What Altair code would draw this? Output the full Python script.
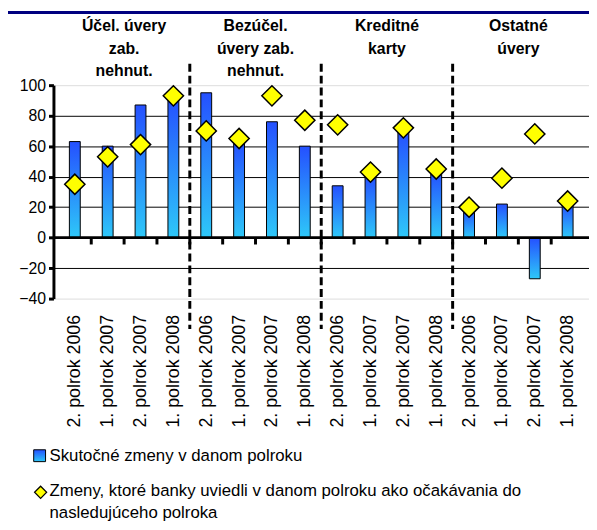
import json
import altair as alt
import pandas as pd

# ---------------- data ----------------
periods = ["2. polrok 2006", "1. polrok 2007", "2. polrok 2007", "1. polrok 2008"] * 4
groups = ["Účel. úvery\nzab.\nnehnut.", "Bezúčel.\núvery zab.\nnehnut.",
          "Kreditné\nkarty", "Ostatné\núvery"]
actual = [63, 60, 87, 92, 95, 63, 76, 60, 34, 40, 70, 43, 18, 22, -27, 22]
expected = [35, 53, 61, 93, 70, 65, 93, 77, 74, 43, 72, 45, 20, 39, 68, 24]
y_ticks = [-40, -20, 0, 20, 40, 60, 80, 100]
legend_bar = "Skutočné zmeny v danom polroku"
legend_pt = "Zmeny, ktoré banky uviedli v danom polroku ako očakávania do\nnasledujúceho polroka"

n = len(periods)
per_group = n // len(groups)
df = pd.DataFrame({"idx": list(range(n)), "period": periods,
                   "actual": actual, "expected": expected})
one = pd.DataFrame({"k": [0]})
bounds = pd.DataFrame({"b": [k + 0.5 for k in range(n - 1)]})
seps = pd.DataFrame({"b": [g * per_group - 0.5 for g in range(1, len(groups))]})
grp = pd.DataFrame({"g": groups,
                    "c": [g * per_group + (per_group - 1) / 2 for g in range(len(groups))]})

FONT = "Liberation Sans"
label_expr = "[" + ",".join(json.dumps(p) for p in periods) + "][datum.value]"

xscale = alt.Scale(domain=[-0.5, n - 0.5], nice=False, zero=False)
yscale = alt.Scale(domain=[-40, 100], nice=False, zero=False)

x_axis = alt.Axis(values=list(range(n)), labelExpr=label_expr, labelAngle=-90,
                  domain=False, ticks=False, grid=False, labelFont=FONT,
                  labelFontSize=18, labelColor="black", labelPadding=16,
                  labelOverlap=False, labelFlush=False, labelBound=False,
                  labelSeparation=0, title=None)
y_axis = alt.Axis(values=y_ticks, grid=True,
                  gridColor={"condition": {"test": "datum.value == 100 || datum.value == -40",
                                           "value": "#dddddd"}, "value": "black"},
                  gridWidth=1, domainWidth=3, domainColor="black", tickWidth=3, tickSize=5,
                  tickColor="black", labelFont=FONT, labelFontSize=16, labelColor="black",
                  labelPadding=3, labelOverlap=False, labelFlush=False, labelBound=False,
                  title=None)

grad = alt.Gradient(gradient="linear", x1=0, x2=0, y1=0, y2=1,
                    stops=[alt.GradientStop(color="#2550ff", offset=0),
                           alt.GradientStop(color="#2ec8f8", offset=1)])

bars = alt.Chart(df).mark_bar(size=11, color=grad, stroke="black", strokeWidth=1).encode(
    x=alt.X("idx:Q", scale=xscale, axis=x_axis),
    y=alt.Y("actual:Q", scale=yscale, axis=y_axis))

zero = alt.Chart(one).mark_rule(color="black", strokeWidth=3).encode(
    y=alt.Y(datum=0, scale=yscale, axis=y_axis))

ticks = alt.Chart(bounds).mark_rule(color="black", strokeWidth=3).encode(
    x=alt.X("b:Q", scale=xscale, axis=x_axis),
    y=alt.Y(datum=0, scale=yscale, axis=y_axis), y2=alt.datum(-4.5))

sep = alt.Chart(seps).mark_rule(color="black", strokeWidth=3, strokeDash=[8, 4], clip=False).encode(
    x=alt.X("b:Q", scale=xscale, axis=x_axis),
    y=alt.Y(datum=114, scale=yscale, axis=y_axis), y2=alt.datum(-60))

pts = alt.Chart(df).mark_point(shape="diamond", filled=True, fill="#ffff00", stroke="black",
                               strokeWidth=1.5, size=420, opacity=1).encode(
    x=alt.X("idx:Q", scale=xscale, axis=x_axis),
    y=alt.Y("expected:Q", scale=yscale, axis=y_axis))

glabels = alt.Chart(grp).mark_text(lineBreak="\n", font=FONT, fontSize=16, fontWeight="bold",
                                   baseline="top", align="center", lineHeight=23,
                                   color="black", clip=False).encode(
    x=alt.X("c:Q", scale=xscale, axis=x_axis), y=alt.value(-68), text="g:N")

band = alt.Chart(one).mark_rect(color="#000080").encode(
    x=alt.value(-46), x2=alt.value(542), y=alt.value(-75), y2=alt.value(-72))

leg_sq = alt.Chart(one).mark_rect(color=grad, stroke="black", strokeWidth=1).encode(
    x=alt.value(-20), x2=alt.value(-8), y=alt.value(369), y2=alt.value(381))
leg_t1 = alt.Chart(one).mark_text(text=legend_bar, font=FONT, fontSize=17, align="left",
                                  baseline="middle", color="black").encode(
    x=alt.value(-4), y=alt.value(375))
leg_dm = alt.Chart(one).mark_point(shape="diamond", filled=True, fill="#ffff00", stroke="black",
                                   strokeWidth=1.2, size=150, opacity=1).encode(
    x=alt.value(-13), y=alt.value(412))
leg_t2 = alt.Chart(one).mark_text(text=legend_pt, lineBreak="\n", font=FONT, fontSize=17,
                                  align="left", baseline="top", lineHeight=22,
                                  color="black").encode(
    x=alt.value(-4), y=alt.value(403))

chart = alt.layer(band, bars, zero, ticks, sep, pts, glabels, leg_sq, leg_t1, leg_dm, leg_t2).properties(
    width=542, height=216, autosize=alt.AutoSizeParams(type="none"),
    padding={"left": 46, "top": 75, "right": 0, "bottom": 223},
    background="white"
).configure_view(stroke=None).configure_axis(labelOverlap=False)

chart.save("out.html", embed_options={"renderer": "svg", "actions": False})
